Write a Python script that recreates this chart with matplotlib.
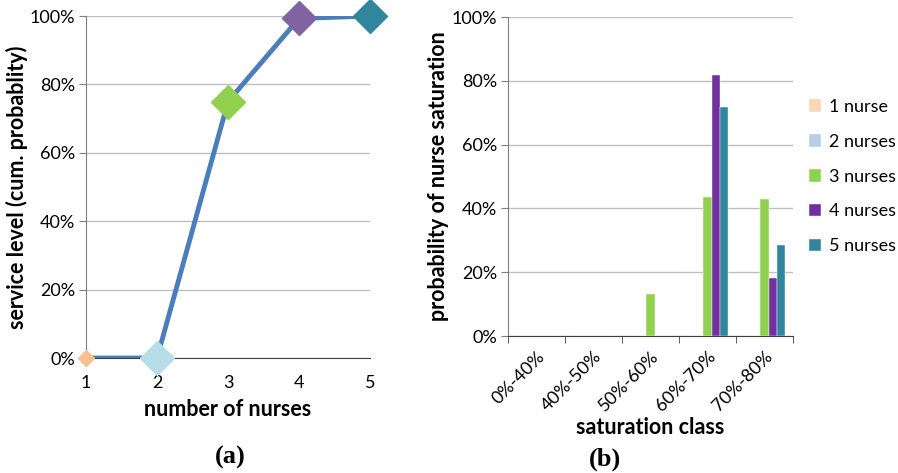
import matplotlib.pyplot as plt
import numpy as np

# panel (a): service level vs number of nurses
nurses = [1, 2, 3, 4, 5]
service_level = [0.0, 0.0, 0.75, 0.993, 1.0]
marker_colors = ['#FAC090', '#B7DEE8', '#92D050', '#8064A2', '#31859C']
marker_sizes = [8, 17, 17, 17, 17]

# panel (b): probability of nurse saturation per class
sat_classes = ['0%-40%', '40%-50%', '50%-60%', '60%-70%', '70%-80%']
series_names = ['1 nurse', '2 nurses', '3 nurses', '4 nurses', '5 nurses']
series_vals = [
    [0, 0, 0, 0, 0],
    [0, 0, 0, 0, 0],
    [0, 0, 0.133, 0.435, 0.429],
    [0, 0, 0, 0.817, 0.183],
    [0, 0, 0, 0.718, 0.285],
]
bar_colors = ['#FCD5B5', '#B9CDE5', '#92D050', '#7030A0', '#31859C']

plt.rcParams['font.family'] = ['Lato', 'DejaVu Sans']
grid_c = '#BFBFBF'
spine_c = '#7F7F7F'

fig = plt.figure(figsize=(8.98, 4.73), dpi=100)

# ---- (a)
ax1 = fig.add_axes([0.0958, 0.2431, 0.3163, 0.7230])
ax1.plot(nurses, service_level, color='#4A7EBB', lw=3.5, zorder=2)
for x, y, c, s in zip(nurses, service_level, marker_colors, marker_sizes):
    ax1.plot(x, y, marker='D', ms=s, color=c, mec=c, zorder=3, clip_on=False)
ax1.set_xlim(1, 5)
ax1.set_ylim(0, 1)
ax1.set_xticks(nurses)
ax1.set_yticks(np.arange(0, 1.01, 0.2))
ax1.set_yticklabels(['%d%%' % v for v in range(0, 101, 20)])
ax1.yaxis.grid(True, color=grid_c, lw=1)
ax1.set_axisbelow(True)
for s in ['top', 'right']:
    ax1.spines[s].set_visible(False)
ax1.spines['left'].set_color(spine_c)
ax1.spines['bottom'].set_color('#404040')
ax1.tick_params(axis='x', length=0, pad=12, labelsize=13)
ax1.tick_params(axis='y', length=5, color=spine_c, labelsize=13, pad=3)
ax1.set_xlabel('number of nurses', fontsize=15.5, fontweight='bold', labelpad=6)
ax1.set_ylabel('service level (cum. probablity)', fontsize=15.5, fontweight='bold', labelpad=1)
fig.text(0.256, 0.032, '(a)', fontsize=19, fontweight='bold', family='Liberation Serif',
         ha='center', va='center')

# ---- (b)
ax2 = fig.add_axes([0.5657, 0.2896, 0.3174, 0.6744])
n = len(series_names)
w = 0.146
idx = np.arange(len(sat_classes))
for i, (name, vals, c) in enumerate(zip(series_names, series_vals, bar_colors)):
    ax2.bar(idx + (i - (n - 1) / 2) * w, vals, width=w, color=c, label=name,
            edgecolor='white', linewidth=0.3, zorder=3)
ax2.set_xlim(-0.5, len(sat_classes) - 0.5)
ax2.set_ylim(0, 1)
ax2.set_yticks(np.arange(0, 1.01, 0.2))
ax2.set_yticklabels(['%d%%' % v for v in range(0, 101, 20)])
ax2.set_xticks(idx)
ax2.set_xticklabels(sat_classes, rotation=45, ha='right', rotation_mode='anchor')
ax2.set_xticks(np.arange(-0.5, len(sat_classes)), minor=True)
ax2.tick_params(axis='x', which='major', length=0, labelsize=13, pad=9)
ax2.tick_params(axis='x', which='minor', length=5, color='#404040')
ax2.tick_params(axis='y', length=5, color=spine_c, labelsize=13, pad=3)
ax2.yaxis.grid(True, color=grid_c, lw=1)
ax2.set_axisbelow(True)
for s in ['top', 'right']:
    ax2.spines[s].set_visible(False)
ax2.spines['left'].set_color(spine_c)
ax2.spines['bottom'].set_color('#404040')
ax2.set_xlabel('saturation class', fontsize=15.5, fontweight='bold', labelpad=2)
ax2.set_ylabel('probability of nurse saturation', fontsize=15.5, fontweight='bold', labelpad=2)
ax2.legend(loc='center left', bbox_to_anchor=(1.03, 0.50), frameon=False, fontsize=13,
           handlelength=0.7, handleheight=0.7, handletextpad=0.4, labelspacing=1.05,
           borderaxespad=0)
fig.text(0.674, 0.028, '(b)', fontsize=19, fontweight='bold', family='Liberation Serif',
         ha='center', va='center')

fig.savefig('out.png', dpi=100)
